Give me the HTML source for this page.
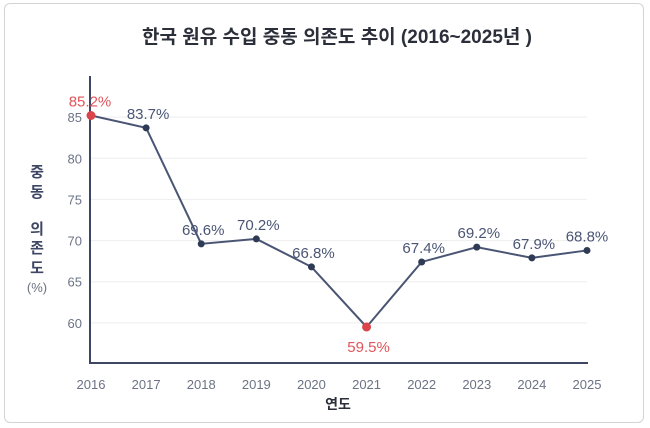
<!DOCTYPE html>
<html><head><meta charset="utf-8"><style>
body{margin:0;background:#fff;width:650px;height:428px;overflow:hidden;font-family:"Liberation Sans","Noto Sans CJK KR",sans-serif;}
#frame{position:absolute;left:4px;top:3px;width:640px;height:420px;border:1px solid #d4d4d4;border-radius:6px;box-sizing:border-box;}
</style></head><body>
<div id="frame"></div>
<svg id="chart" width="650" height="428" style="position:absolute;left:0;top:0">
<text x="337" y="43" text-anchor="middle" font-size="19" font-weight="bold" fill="#2b2f3a" font-family="Liberation Sans, Noto Sans CJK KR, sans-serif">한국 원유 수입 중동 의존도 추이 (2016~2025년 )</text>
<g id="grid"></g>
<g id="ylabels"></g>
<g id="xlabels"></g>
<line x1="90" y1="76" x2="90" y2="364" stroke="#3d4663" stroke-width="2"/>
<line x1="89" y1="363" x2="588" y2="363" stroke="#3d4663" stroke-width="2"/>
<g font-size="15" font-weight="bold" fill="#3d4663" text-anchor="middle">
<text x="37" y="177">중</text><text x="37" y="197">동</text>
<text x="37" y="234">의</text><text x="37" y="253">존</text><text x="37" y="273">도</text>
<text x="37" y="292" font-weight="normal" font-size="13" fill="#6b7280">(%)</text>
</g>
<text x="338" y="409" text-anchor="middle" font-size="14" font-weight="bold" fill="#2b2f3a">연도</text>
<g id="series"></g>
</svg>
<script>
const years=["2016","2017","2018","2019","2020","2021","2022","2023","2024","2025"];
const values=[85.2,83.7,69.6,70.2,66.8,59.5,67.4,69.2,67.9,68.8];
const yTicks=[60,65,70,75,80,85];
const highlight=[0,5];
const ns="http://www.w3.org/2000/svg";
const x=i=>91+i*(587-91)/(years.length-1);
const y=v=>364-(v-55)*(364-76)/(90-55);
function mk(t,a,p){const e=document.createElementNS(ns,t);for(const k in a)e.setAttribute(k,a[k]);p.appendChild(e);return e;}
const grid=document.getElementById('grid'),yl=document.getElementById('ylabels'),xl=document.getElementById('xlabels'),s=document.getElementById('series');
yTicks.forEach(v=>{
 const g=mk('line',{x1:91,x2:587,y1:y(v),y2:y(v),stroke:'#eeeeee','stroke-width':1},grid);
 
 
 const t=mk('text',{x:82,y:y(v)+5,'text-anchor':'end','font-size':13,fill:'#6b7385'},yl);
 t.textContent=v;
 
 
});
years.forEach((yr,i)=>{
 const t=mk('text',{x:x(i),y:389,'text-anchor':'middle','font-size':13,fill:'#6b7385'},xl);
 t.textContent=yr;
 
 
});
const pl=mk('polyline',{points:values.map((v,i)=>x(i)+','+y(v)).join(' '),fill:'none',stroke:'#4a5574','stroke-width':2},s);


values.forEach((v,i)=>{
 const hl=highlight.includes(i);
 const c=mk('circle',{cx:x(i),cy:y(v),r:hl?4.5:3.5,fill:hl?'#d9454b':'#2f3a55'},s);
 
 
 const below=i===5;
 const t=mk('text',{x:x(i)+(i===0?-1:i===9?0:2),y:below?y(v)+25:y(v)-9,'text-anchor':'middle','font-size':15,fill:hl?'#e0555b':'#4a5574'},s);
 t.textContent=v.toFixed(1)+'%';
 
 
});
</script>
</body></html>
